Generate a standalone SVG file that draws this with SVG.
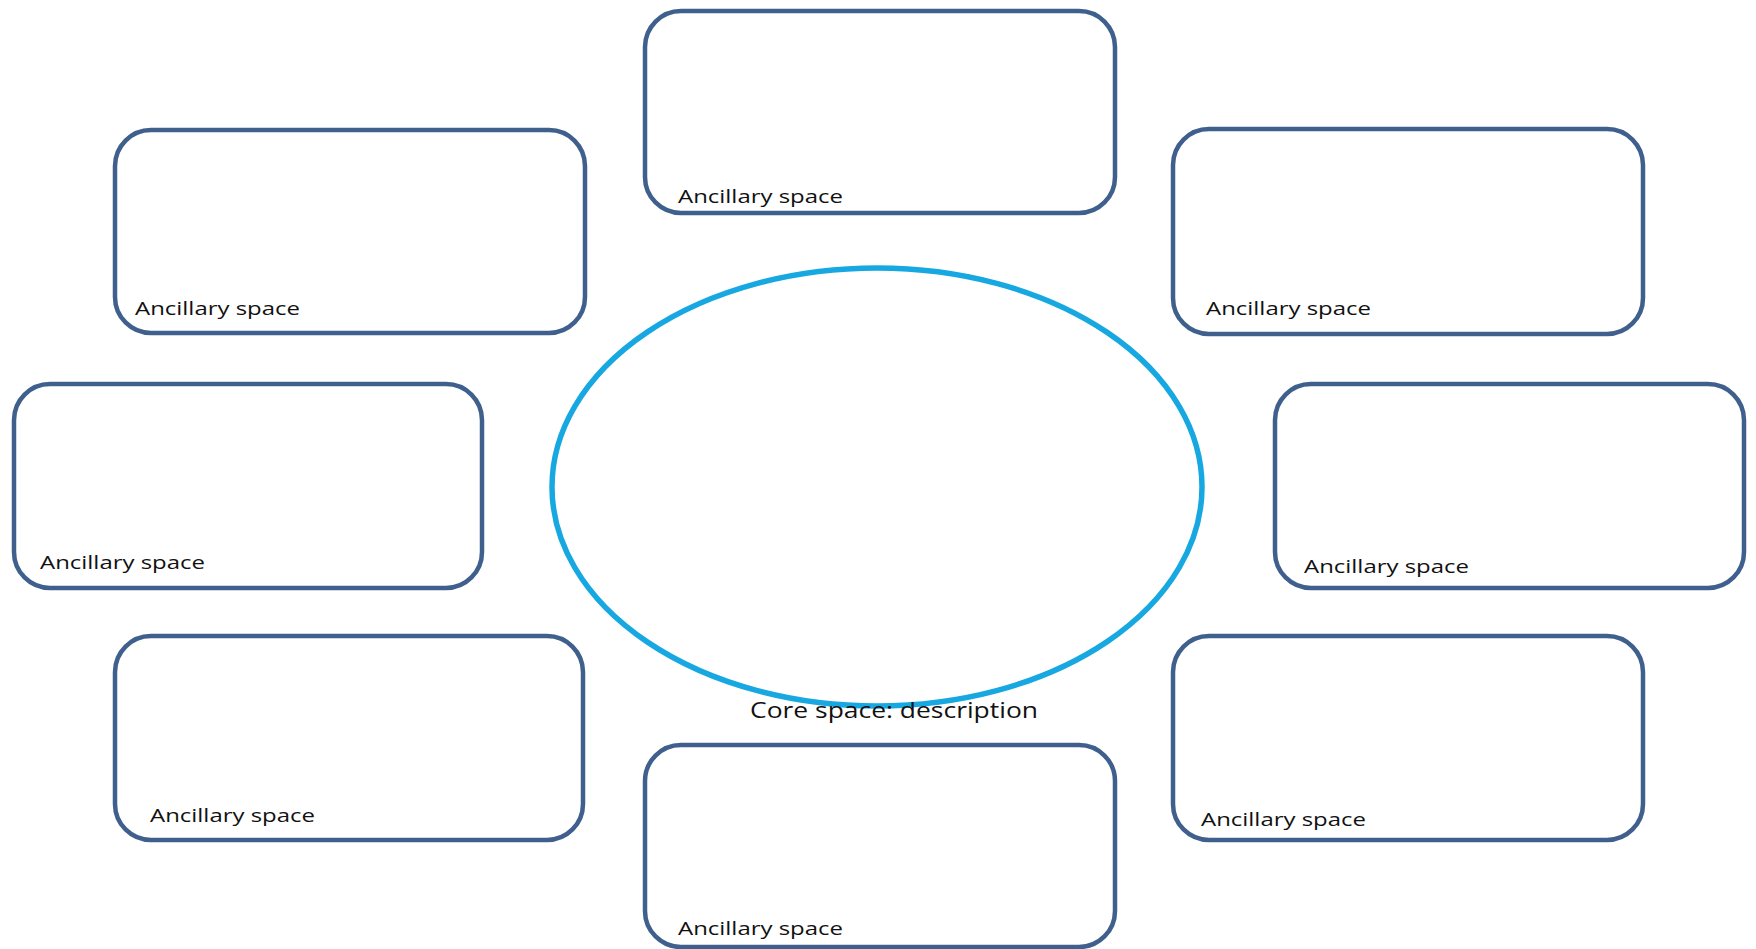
<svg xmlns="http://www.w3.org/2000/svg" width="1756" height="949" viewBox="0 0 1756 949">
<style>
.box{fill:#ffffff;stroke:#3f5f8c;stroke-width:4.5}
.core{fill:#ffffff;stroke:#17a8e2;stroke-width:5.5}
.lbl{font-family:"Open Sans","Liberation Sans",sans-serif;font-size:19px;fill:#111111}
.clbl{font-family:"Open Sans","Liberation Sans",sans-serif;font-size:21px;fill:#111111}
</style>
<rect width="1756" height="949" fill="#ffffff"/>
<g id="connectors"/>
<g id="core">
<ellipse class="core" cx="877" cy="487" rx="325" ry="219"/>
<text class="clbl" x="750" y="718" textLength="288" lengthAdjust="spacingAndGlyphs">Core space: description</text>
</g>
<g id="anc-top">
<rect class="box" x="645" y="11" width="470" height="202" rx="36"/>
<text class="lbl" x="678" y="203" textLength="165" lengthAdjust="spacingAndGlyphs">Ancillary space</text>
</g>
<g id="anc-upper-left">
<rect class="box" x="115" y="130" width="470" height="203" rx="36"/>
<text class="lbl" x="135" y="315" textLength="165" lengthAdjust="spacingAndGlyphs">Ancillary space</text>
</g>
<g id="anc-mid-left">
<rect class="box" x="14" y="384" width="468" height="204" rx="36"/>
<text class="lbl" x="40" y="569" textLength="165" lengthAdjust="spacingAndGlyphs">Ancillary space</text>
</g>
<g id="anc-lower-left">
<rect class="box" x="115" y="636" width="468" height="204" rx="36"/>
<text class="lbl" x="150" y="822" textLength="165" lengthAdjust="spacingAndGlyphs">Ancillary space</text>
</g>
<g id="anc-bottom">
<rect class="box" x="645" y="745" width="470" height="202" rx="36"/>
<text class="lbl" x="678" y="935" textLength="165" lengthAdjust="spacingAndGlyphs">Ancillary space</text>
</g>
<g id="anc-mid-right">
<rect class="box" x="1275" y="384" width="469" height="204" rx="36"/>
<text class="lbl" x="1304" y="573" textLength="165" lengthAdjust="spacingAndGlyphs">Ancillary space</text>
</g>
<g id="anc-upper-right">
<rect class="box" x="1173" y="129" width="470" height="205" rx="36"/>
<text class="lbl" x="1206" y="315" textLength="165" lengthAdjust="spacingAndGlyphs">Ancillary space</text>
</g>
<g id="anc-lower-right">
<rect class="box" x="1173" y="636" width="470" height="204" rx="36"/>
<text class="lbl" x="1201" y="826" textLength="165" lengthAdjust="spacingAndGlyphs">Ancillary space</text>
</g>
</svg>
